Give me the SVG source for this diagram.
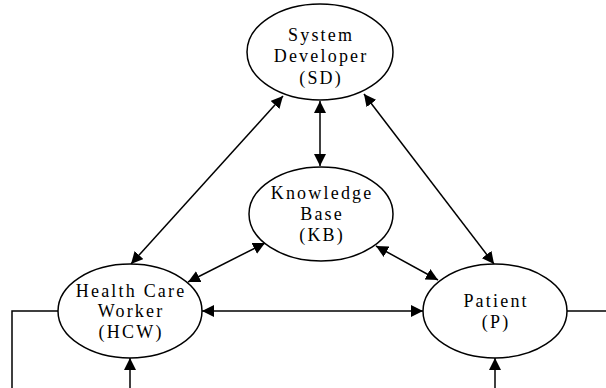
<svg xmlns="http://www.w3.org/2000/svg" width="606" height="388" viewBox="0 0 606 388">
<style>
.node ellipse{fill:#fff;stroke:#000;stroke-width:1.5}
.node text{font-family:"Liberation Serif","Times New Roman",serif;font-size:18px;letter-spacing:2.2px;text-anchor:middle;fill:#000}
.conn line,.conn polyline{stroke:#000;stroke-width:1.5;fill:none}
</style>
<defs>
<marker id="ah" markerUnits="userSpaceOnUse" markerWidth="12" markerHeight="12" refX="11" refY="5.5" orient="auto-start-reverse" viewBox="0 0 11 11">
<path d="M0,0 L11,5.5 L0,11 z" fill="#000"/>
</marker>
</defs>
<g id="connectors" class="conn">
<line x1="320" y1="101" x2="320" y2="166" marker-start="url(#ah)" marker-end="url(#ah)"/>
<line x1="283" y1="96" x2="131" y2="264" marker-start="url(#ah)" marker-end="url(#ah)"/>
<line x1="364" y1="94" x2="494" y2="264" marker-start="url(#ah)" marker-end="url(#ah)"/>
<line x1="265" y1="243" x2="188" y2="282" marker-start="url(#ah)" marker-end="url(#ah)"/>
<line x1="376" y1="246" x2="438" y2="280" marker-start="url(#ah)" marker-end="url(#ah)"/>
<line x1="202" y1="311" x2="423" y2="311" marker-start="url(#ah)" marker-end="url(#ah)"/>
<polyline points="58,311 12,311 12,388"/>
<line x1="567" y1="311" x2="606" y2="311"/>
<line x1="130" y1="388" x2="130" y2="358" marker-end="url(#ah)"/>
<line x1="495" y1="388" x2="495" y2="358" marker-end="url(#ah)"/>
</g>
<g id="sd" class="node">
<ellipse cx="320" cy="52" rx="73" ry="48"/>
<text x="321.1" y="41">System</text>
<text x="321.1" y="62">Developer</text>
<text x="321.1" y="84">(SD)</text>
</g>
<g id="kb" class="node">
<ellipse cx="321" cy="214" rx="72" ry="47"/>
<text x="322.1" y="199">Knowledge</text>
<text x="322.1" y="220">Base</text>
<text x="322.1" y="241">(KB)</text>
</g>
<g id="hcw" class="node">
<ellipse cx="130" cy="311" rx="72" ry="47"/>
<text x="131.1" y="297">Health Care</text>
<text x="131.1" y="317">Worker</text>
<text x="131.1" y="338">(HCW)</text>
</g>
<g id="p" class="node">
<ellipse cx="495" cy="311" rx="72" ry="47"/>
<text x="496.1" y="307">Patient</text>
<text x="496.1" y="328">(P)</text>
</g>
</svg>
